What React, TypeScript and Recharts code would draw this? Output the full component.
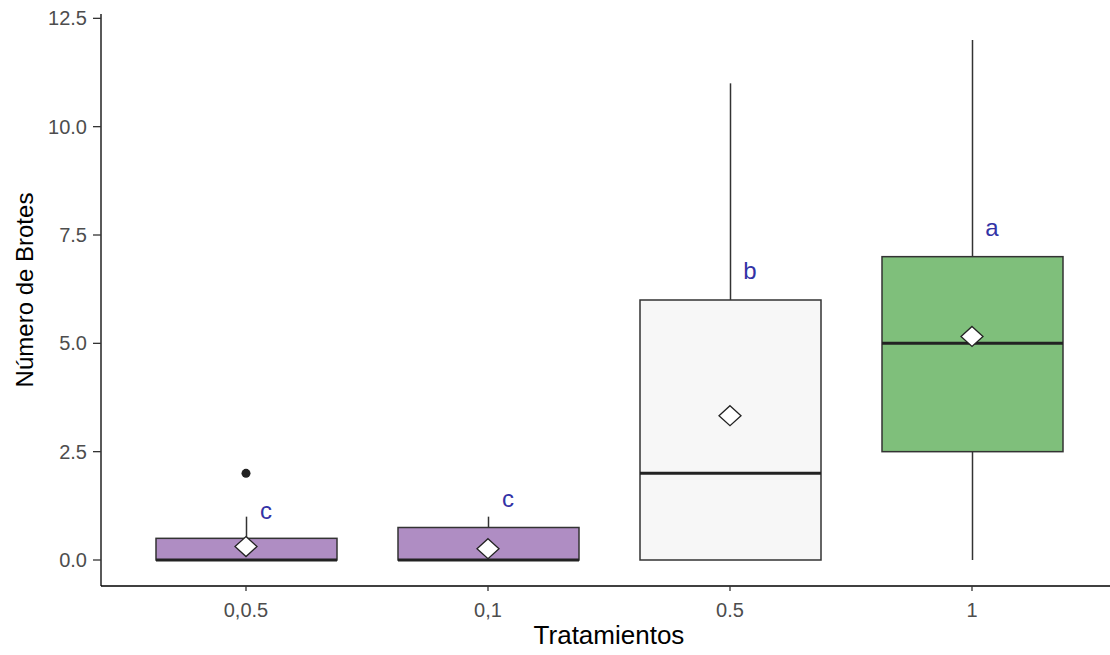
import React from 'react';
import { ComposedChart, Bar, Scatter, XAxis, YAxis } from 'recharts';

const categories = ['0,0.5', '0,1', '0.5', '1'];
const whiskerLow = [0, 0, 0, 0];
const q1 = [0, 0, 0, 2.5];
const median = [0, 0, 2, 5];
const q3 = [0.5, 0.75, 6, 7];
const whiskerHigh = [1, 1, 11, 12];
const means = [0.31, 0.26, 3.33, 5.16];
const outliers = [2, null, null, null];
const letters = ['c', 'c', 'b', 'a'];
const letterPos = [1.15, 1.42, 6.68, 7.68];
const yTicks = [0, 2.5, 5, 7.5, 10, 12.5];

const boxFills = ['#AF8DC3', '#AF8DC3', '#F7F7F7', '#7FBF7B'];
const FONT = '"Liberation Sans", Arial, sans-serif';

const data = categories.map((cat, i) => ({
  cat,
  range: [whiskerLow[i], whiskerHigh[i]],
  lo: whiskerLow[i],
  hi: whiskerHigh[i],
  q1: q1[i],
  median: median[i],
  q3: q3[i],
  mean: means[i],
  outlier: outliers[i],
  letter: letters[i],
  letterY: letterPos[i],
  idx: i,
}));

const BoxShape = (props: any) => {
  const { x, y, width, height, payload } = props;
  if (!payload) return null;
  const top = Math.min(y, y + height);
  const bottom = Math.max(y, y + height);
  const { lo, hi } = payload;
  const py = (v: number) => bottom - ((v - lo) / (hi - lo)) * (bottom - top);
  const cx = x + width / 2;
  const yq1 = py(payload.q1);
  const yq3 = py(payload.q3);
  const ymed = py(payload.median);
  return (
    <g>
      <line x1={cx} x2={cx} y1={py(hi)} y2={yq3} stroke="#333" strokeWidth={1.5} />
      <line x1={cx} x2={cx} y1={yq1} y2={py(lo)} stroke="#333" strokeWidth={1.5} />
      <rect x={x} y={yq3} width={width} height={Math.max(0, yq1 - yq3)} fill={boxFills[payload.idx]} stroke="#333" strokeWidth={1.5} />
      <line x1={x} x2={x + width} y1={ymed} y2={ymed} stroke="#222" strokeWidth={3} />
    </g>
  );
};

const MeanShape = (props: any) => {
  const { cx, cy } = props;
  if (cx == null || cy == null || isNaN(cy)) return null;
  return (
    <path d={`M${cx},${cy - 10} L${cx + 11},${cy} L${cx},${cy + 10} L${cx - 11},${cy} Z`} fill="#fff" stroke="#222" strokeWidth={1.3} />
  );
};

const OutlierShape = (props: any) => {
  const { cx, cy, payload } = props;
  if (!payload || payload.outlier == null || isNaN(cy)) return null;
  return <circle cx={cx} cy={cy} r={4.5} fill="#222" />;
};

const LetterShape = (props: any) => {
  const { cx, cy, payload } = props;
  if (!payload || isNaN(cy)) return null;
  return (
    <text x={cx + 20} y={cy} textAnchor="middle" dominantBaseline="central" fontFamily={FONT} fontSize={24} fill="#3333A6">
      {payload.letter}
    </text>
  );
};

export default function App() {
  return (
    <div style={{ position: 'absolute', left: 0, top: 0, width: 1110, height: 655, overflow: 'hidden', background: '#fff' }}>
      <ComposedChart width={1120} height={655} data={data} margin={{ top: 14, right: 3, bottom: 0, left: 0 }}>
        <XAxis
          dataKey="cat"
          type="category"
          height={69}
          padding={{ left: 24, right: 24 }}
          axisLine={{ stroke: '#000', strokeWidth: 1.3 }}
          tickLine={{ stroke: '#333', strokeWidth: 1.3 }}
          tickSize={5}
          tickMargin={12}
          tick={{ fill: '#4D4D4D', fontSize: 20, fontFamily: FONT }}
          label={{
            content: (p: any) => {
              const vb = p.viewBox || { x: 101, width: 1016 };
              return (
                <text x={vb.x + vb.width / 2} y={644} textAnchor="middle" fontFamily={FONT} fontSize={26} fill="#000">
                  Tratamientos
                </text>
              );
            },
          }}
        />
        <YAxis
          type="number"
          width={101}
          domain={[-0.6, 12.6]}
          ticks={yTicks}
          allowDataOverflow
          tickFormatter={(v: number) => v.toFixed(1)}
          axisLine={{ stroke: '#000', strokeWidth: 1.3 }}
          tickLine={{ stroke: '#333', strokeWidth: 1.3 }}
          tickSize={8}
          tickMargin={6}
          tick={{ fill: '#4D4D4D', fontSize: 20, fontFamily: FONT }}
          label={{
            content: () => (
              <text transform="rotate(-90)" x={-290} y={33} textAnchor="middle" fontFamily={FONT} fontSize={24} fill="#000">
                Número de Brotes
              </text>
            ),
          }}
        />
        <Bar dataKey="range" barSize={181} shape={BoxShape} isAnimationActive={false} />
        <Scatter dataKey="mean" shape={MeanShape} isAnimationActive={false} />
        <Scatter dataKey="outlier" shape={OutlierShape} isAnimationActive={false} />
        <Scatter dataKey="letterY" shape={LetterShape} isAnimationActive={false} />
      </ComposedChart>
    </div>
  );
}
